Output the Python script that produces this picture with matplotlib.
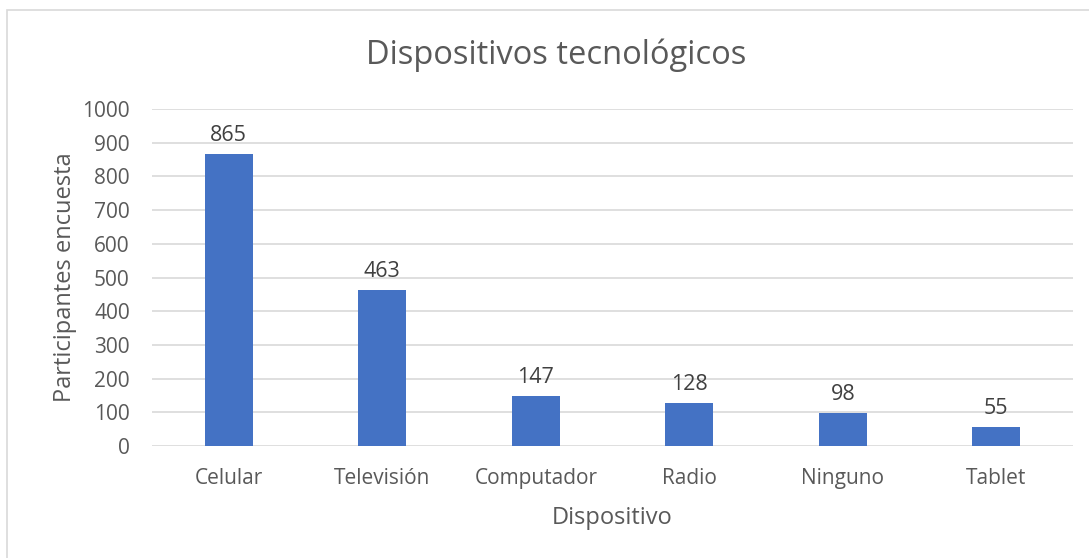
import matplotlib.pyplot as plt
from matplotlib.patches import Rectangle

categories = ["Celular", "Televisión", "Computador", "Radio", "Ninguno", "Tablet"]
values = [865, 463, 147, 128, 98, 55]
yticks = [0, 100, 200, 300, 400, 500, 600, 700, 800, 900, 1000]

W, H = 1089, 558
fig = plt.figure(figsize=(W/100, H/100), dpi=100)
plt.rcParams['font.family'] = ['Open Sans', 'DejaVu Sans']
txt = '#595959'

# chart border (left and top visible)
fig.add_artist(Rectangle((7/W, -0.1), 1.2, 1 - 10/H + 0.1, transform=fig.transFigure,
                         fill=False, edgecolor='#D9D9D9', linewidth=1.2))

ax = fig.add_axes([152/W, 1 - 446/H, (1073-152)/W, (446-109)/H])
x = range(len(categories))
bars = ax.bar(x, values, width=0.31, color='#4472C4', zorder=3)
ax.set_xlim(-0.5, len(categories) - 0.5)
ax.set_ylim(0, 1000)
ax.set_yticks(yticks)
ax.set_yticklabels([str(t) for t in yticks], fontsize=15, color=txt)
ax.set_xticks(list(x))
ax.set_xticklabels(categories, fontsize=15, color=txt)
ax.tick_params(axis='both', length=0)
ax.tick_params(axis='x', pad=16)
ax.tick_params(axis='y', pad=16)
ax.grid(axis='y', color='#D9D9D9', linewidth=1.2, zorder=0)
for s in ax.spines.values():
    s.set_visible(False)
for i, v in enumerate(values):
    ax.annotate(str(v), (i, v), xytext=(0, 6), textcoords='offset points',
                ha='center', va='bottom', fontsize=15.5, color='#404040')

ax.set_xlabel("Dispositivo", fontsize=17, color=txt, labelpad=12)
ax.set_ylabel("Participantes encuesta", fontsize=17, color=txt, labelpad=4)
fig.text(556/W, 1 - 55/H, "Dispositivos tecnológicos", ha='center', va='center',
         fontsize=23.5, color=txt)

fig.savefig("out.png", dpi=100, facecolor='white')
